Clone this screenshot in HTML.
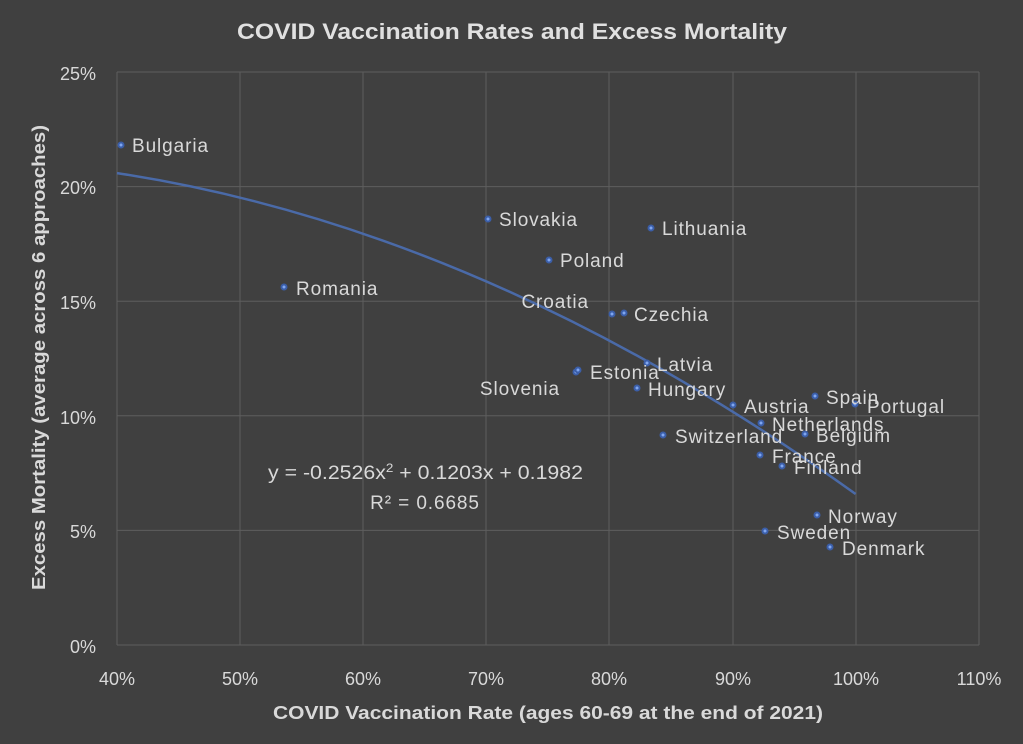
<!DOCTYPE html>
<html><head><meta charset="utf-8"><style>
html,body{margin:0;padding:0;background:#404040;}
svg{display:block;font-family:"Liberation Sans",sans-serif;}
</style></head><body>
<svg width="1023" height="744" viewBox="0 0 1023 744" xmlns="http://www.w3.org/2000/svg">
<rect width="1023" height="744" fill="#404040"/>
<g stroke="#5e5e5e" stroke-width="1">
<line x1="117" y1="72" x2="979" y2="72"/><line x1="117" y1="186.6" x2="979" y2="186.6"/>
<line x1="117" y1="301.2" x2="979" y2="301.2"/><line x1="117" y1="415.8" x2="979" y2="415.8"/>
<line x1="117" y1="530.4" x2="979" y2="530.4"/><line x1="117" y1="645" x2="979" y2="645"/>
<line x1="117" y1="72" x2="117" y2="645"/><line x1="240" y1="72" x2="240" y2="645"/>
<line x1="363" y1="72" x2="363" y2="645"/><line x1="486" y1="72" x2="486" y2="645"/>
<line x1="609" y1="72" x2="609" y2="645"/><line x1="733" y1="72" x2="733" y2="645"/>
<line x1="856" y1="72" x2="856" y2="645"/><line x1="979" y1="72" x2="979" y2="645"/>
</g>
<text x="237" y="39" textLength="550" lengthAdjust="spacingAndGlyphs" fill="#e0e0e0" font-size="22" font-weight="bold">COVID Vaccination Rates and Excess Mortality</text>
<g fill="#d9d9d9" font-size="18" text-anchor="end">
<text x="96" y="80">25%</text><text x="96" y="194">20%</text><text x="96" y="309">15%</text>
<text x="96" y="424">10%</text><text x="96" y="538">5%</text><text x="96" y="653">0%</text>
</g>
<g fill="#d9d9d9" font-size="18" text-anchor="middle">
<text x="117" y="685">40%</text><text x="240" y="685">50%</text><text x="363" y="685">60%</text>
<text x="486" y="685">70%</text><text x="609" y="685">80%</text><text x="733" y="685">90%</text>
<text x="856" y="685">100%</text><text x="979" y="685">110%</text>
</g>
<text x="273" y="719" textLength="550" lengthAdjust="spacingAndGlyphs" fill="#d9d9d9" font-size="18" font-weight="bold">COVID Vaccination Rate (ages 60-69 at the end of 2021)</text>
<text transform="translate(45,590) rotate(-90)" textLength="465" lengthAdjust="spacingAndGlyphs" fill="#d9d9d9" font-size="18" font-weight="bold">Excess Mortality (average across 6 approaches)</text>
<path d="M117,173.1 Q486.3,229.3 855.6,494" fill="none" stroke="#4a6aa8" stroke-width="2.5"/>
<g fill="#7fa6f0" stroke="#3b5ea8" stroke-width="2">
<circle cx="121" cy="145" r="2.5"/><circle cx="488" cy="219" r="2.5"/><circle cx="651" cy="228" r="2.5"/>
<circle cx="549" cy="260" r="2.5"/><circle cx="284" cy="287" r="2.5"/><circle cx="612" cy="314" r="2.5"/>
<circle cx="624" cy="313" r="2.5"/><circle cx="647" cy="363" r="2.5"/><circle cx="576" cy="372" r="2.5"/>
<circle cx="578" cy="370" r="2.5"/><circle cx="637" cy="388" r="2.5"/><circle cx="733" cy="405" r="2.5"/>
<circle cx="815" cy="396" r="2.5"/><circle cx="855" cy="404" r="2.5"/><circle cx="761" cy="423" r="2.5"/>
<circle cx="805" cy="434" r="2.5"/><circle cx="663" cy="435" r="2.5"/><circle cx="760" cy="455" r="2.5"/>
<circle cx="782" cy="466" r="2.5"/><circle cx="817" cy="515" r="2.5"/><circle cx="765" cy="531" r="2.5"/>
<circle cx="830" cy="547" r="2.5"/>
</g>
<g fill="#d9d9d9" font-size="19" letter-spacing="0.9">
<text x="132" y="152">Bulgaria</text><text x="499" y="226">Slovakia</text><text x="662" y="235">Lithuania</text>
<text x="560" y="267">Poland</text><text x="296" y="295">Romania</text>
<text x="589" y="308" text-anchor="end">Croatia</text><text x="634" y="321">Czechia</text>
<text x="657" y="371">Latvia</text><text x="590" y="379">Estonia</text>
<text x="560" y="395" text-anchor="end">Slovenia</text><text x="648" y="396">Hungary</text>
<text x="744" y="413">Austria</text><text x="826" y="404">Spain</text><text x="867" y="413">Portugal</text>
<text x="772" y="431">Netherlands</text><text x="816" y="442">Belgium</text><text x="675" y="443">Switzerland</text>
<text x="772" y="463">France</text><text x="794" y="474">Finland</text><text x="828" y="523">Norway</text>
<text x="777" y="539">Sweden</text><text x="842" y="555">Denmark</text>
</g>
<g fill="#d9d9d9" font-size="19">
<text x="268" y="479" textLength="315" lengthAdjust="spacingAndGlyphs">y = -0.2526x<tspan font-size="12" dy="-7">2</tspan><tspan dy="7"> + 0.1203x + 0.1982</tspan></text>
<text x="425" y="509" text-anchor="middle" letter-spacing="0.9">R² = 0.6685</text>
</g>
</svg>
</body></html>
